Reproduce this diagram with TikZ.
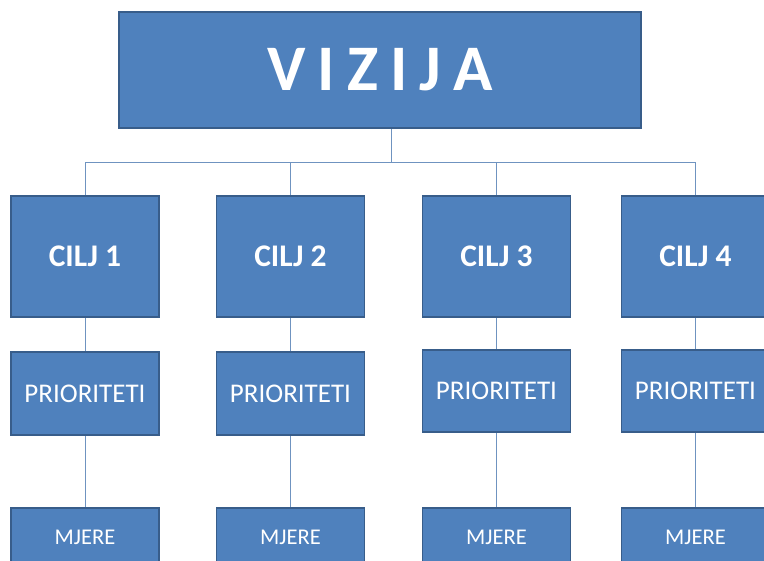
\documentclass[tikz,border=0pt]{standalone}
\usepackage{fontspec}
\setmainfont{Carlito}
\definecolor{boxfill}{HTML}{4F81BD}
\definecolor{boxline}{HTML}{385D8A}
\definecolor{conn}{HTML}{6F93C0}
\begin{document}
\begin{tikzpicture}[x=1pt,y=-1pt,
  box/.style={draw=boxline,line width=1.7pt,fill=boxfill,text=white,inner sep=0pt,
    rectangle,minimum width=148pt},
  cilj/.style={box,minimum height=121pt,font=\fontsize{31.5}{31.5}\selectfont\bfseries},
  prio/.style={box,minimum height=83pt,font=\fontsize{27}{27}\selectfont},
  mjere/.style={box,minimum height=58pt,font=\fontsize{22.5}{22.5}\selectfont},
  conline/.style={draw=conn,line width=0.9pt}]
\useasboundingbox[fill=white] (0,0) rectangle (764,561);
\node[box,minimum width=522pt,minimum height=116pt,font=\fontsize{65}{65}\selectfont\bfseries] (viz) at (380,70)
  {V\hspace{12pt}I\hspace{12pt}Z\hspace{12pt}I\hspace{12pt}J\hspace{12pt}A};
\node[cilj] (c1) at (85,256.5) {CILJ 1};
\node[cilj] (c2) at (290.5,256.5) {CILJ 2};
\node[cilj] (c3) at (496.5,256.5) {CILJ 3};
\node[cilj] (c4) at (695.5,256.5) {CILJ 4};
\node[prio] (p1) at (85,393.5) {PRIORITETI};
\node[prio] (p2) at (290.5,393.5) {PRIORITETI};
\node[prio,minimum height=82pt] (p3) at (496.5,391) {PRIORITETI};
\node[prio,minimum height=82pt] (p4) at (695.5,391) {PRIORITETI};
\node[mjere] (m1) at (85,537) {MJERE};
\node[mjere] (m2) at (290.5,537) {MJERE};
\node[mjere] (m3) at (496.5,537) {MJERE};
\node[mjere] (m4) at (695.5,537) {MJERE};
\coordinate (bus) at (391,162);
\draw[conline] (viz.south -| bus) -- (bus);
\foreach \i in {1,2,3,4}{
  \draw[conline] (c\i.north) |- (bus);
  \draw[conline] (c\i.south) -- (p\i.north);
  \draw[conline] (p\i.south) -- (m\i.north);
}
\end{tikzpicture}
\end{document}
